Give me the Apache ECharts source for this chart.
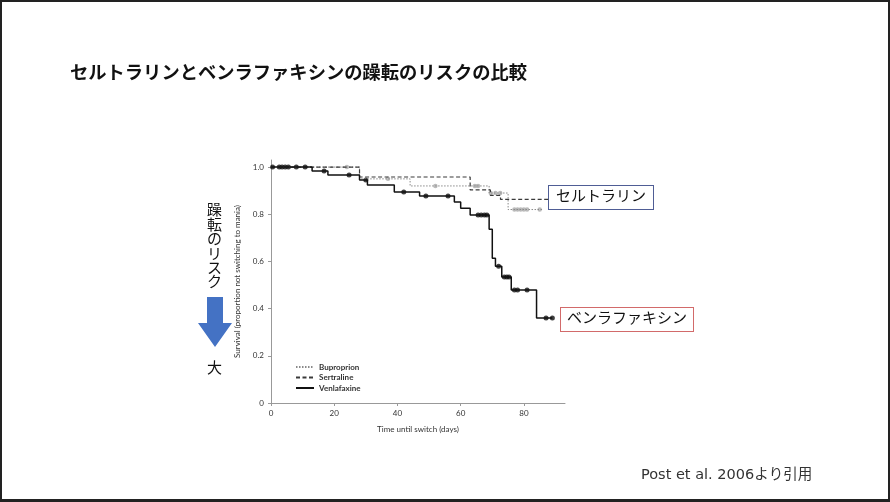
<!DOCTYPE html>
<html>
<head>
    <meta charset="UTF-8">
    <title>セルトラリンとベンラファキシンの躁転のリスクの比較</title>
    <script src="https://cdn.jsdelivr.net/npm/echarts@6/dist/echarts.min.js"></script>
    <style>
        html, body { margin: 0; padding: 0; background: #fff; }
        #chart { position: absolute; left: 0; top: 0; width: 890px; height: 502px; }
        #frame {
            position: absolute; left: 0; top: 0; width: 890px; height: 502px;
            box-sizing: border-box; pointer-events: none;
            border-style: solid; border-color: #222;
            border-width: 2px 2px 3px 2px;
        }
    </style>
</head>
<body>
<div id="chart"></div>
<div id="frame"></div>

<script>
    // Kaplan-Meier steps (days, proportion not switching)
    const venlaTimes  = [0, 13, 18, 28, 30.5, 39, 47, 58, 60, 63, 69, 70, 71, 73, 76, 84, 89];
    const venlaValues = [1.0, 0.983, 0.966, 0.945, 0.924, 0.894, 0.877, 0.852, 0.826, 0.797, 0.737, 0.614, 0.58, 0.534, 0.479, 0.36, 0.36];
    const sertTimes   = [0, 28, 63, 69.4, 72.6, 88];
    const sertValues  = [1.0, 0.958, 0.903, 0.88, 0.863, 0.863];
    const bupTimes    = [0, 28, 44, 69, 75, 86];
    const bupValues   = [1.0, 0.95, 0.92, 0.89, 0.82, 0.82];

    // censored observations
    const venlaCensTimes  = [0.5, 2.6, 3.5, 4.5, 5.5, 8, 10.8, 16.8, 24.7, 30, 42, 49, 56, 65.5, 66.5, 67.5, 68.3, 72, 73.8, 74.6, 75.3, 77, 78, 81, 87, 89];
    const venlaCensValues = [1, 1, 1, 1, 1, 1, 1, 0.983, 0.966, 0.945, 0.894, 0.877, 0.877, 0.797, 0.797, 0.797, 0.797, 0.58, 0.534, 0.534, 0.534, 0.479, 0.479, 0.479, 0.36, 0.36];
    const bupCensTimes    = [24, 37, 52, 64.5, 65.5, 69.5, 71, 72.5, 77, 78, 79, 80, 81, 85];
    const bupCensValues   = [1, 0.95, 0.92, 0.92, 0.92, 0.89, 0.89, 0.89, 0.82, 0.82, 0.82, 0.82, 0.82, 0.82];

    const drugNames = ['Buproprion', 'Sertraline', 'Venlafaxine'];

    const zip = (xs, ys) => xs.map((x, i) => [x, ys[i]]);
    const axisFont = 'Lato, "DejaVu Sans", sans-serif';
    const jpFont = '"DejaVu Sans", "Noto Sans CJK JP", sans-serif';

    const chart = echarts.init(document.getElementById('chart'));
    const option = {
        animation: false,
        title: {
            text: 'セルトラリンとベンラファキシンの躁転のリスクの比較',
            left: 70,
            top: 63,
            padding: 0,
            textStyle: { fontFamily: '"Noto Sans CJK JP", sans-serif', fontSize: 18.3, fontWeight: 'bold', color: '#111' }
        },
        legend: {
            data: drugNames,
            orient: 'vertical',
            left: 290,
            top: 358,
            itemWidth: 18,
            itemHeight: 8,
            itemGap: 2.5,
            itemStyle: { opacity: 0 },
            textStyle: { fontFamily: axisFont, fontSize: 8, color: '#333', fontWeight: 'bold' }
        },
        grid: { left: 271, right: 325, top: 160, bottom: 99 },
        xAxis: {
            type: 'value',
            min: 0,
            max: 93,
            interval: 20,
            name: 'Time until switch (days)',
            nameLocation: 'middle',
            nameGap: 22,
            nameTextStyle: { fontFamily: axisFont, fontSize: 8, color: '#333' },
            axisLine: { lineStyle: { color: '#999' } },
            axisTick: { length: 3, lineStyle: { color: '#999' } },
            axisLabel: { fontFamily: axisFont, fontSize: 8, color: '#333', margin: 6, showMaxLabel: false },
            splitLine: { show: false }
        },
        yAxis: {
            type: 'value',
            min: 0,
            max: 1.03,
            interval: 0.2,
            name: 'Survival (proportion not switching to mania)',
            nameLocation: 'middle',
            nameGap: 30,
            nameTextStyle: { fontFamily: axisFont, fontSize: 8, color: '#333' },
            axisLine: { show: true, lineStyle: { color: '#999' } },
            axisTick: { show: true, length: 3, lineStyle: { color: '#999' } },
            axisLabel: {
                fontFamily: axisFont, fontSize: 8, color: '#333', margin: 7,
                formatter: v => (v === 0 ? '0' : v.toFixed(1))
            },
            splitLine: { show: false }
        },
        series: [
            {
                name: 'Buproprion', type: 'line', step: 'end', symbol: 'none',
                data: zip(bupTimes, bupValues),
                lineStyle: { color: '#8a8a8a', width: 1, type: [1.5, 1.5] },
                itemStyle: { color: '#8a8a8a' }
            },
            {
                name: 'Sertraline', type: 'line', step: 'end', symbol: 'none',
                data: zip(sertTimes, sertValues),
                lineStyle: { color: '#3a3a3a', width: 1.2, type: [4, 2.5] },
                itemStyle: { color: '#3a3a3a' }
            },
            {
                name: 'Venlafaxine', type: 'line', step: 'end', symbol: 'none',
                data: zip(venlaTimes, venlaValues),
                lineStyle: { color: '#111', width: 1.5 },
                itemStyle: { color: '#111' }
            },
            {
                name: 'Buproprion censored', type: 'scatter', symbol: 'emptyCircle', symbolSize: 2.5,
                data: zip(bupCensTimes, bupCensValues),
                itemStyle: { color: '#aaa', borderColor: '#aaa', borderWidth: 0.8 }
            },
            {
                name: 'Venlafaxine censored', type: 'scatter', symbol: 'circle', symbolSize: 5,
                data: zip(venlaCensTimes, venlaCensValues),
                itemStyle: { color: '#111' }
            }
        ],
        graphic: [
            {
                type: 'text', left: 548, top: 185,
                style: {
                    text: 'セルトラリン', fontFamily: jpFont, fontSize: 15, fill: '#111',
                    backgroundColor: '#fff', borderColor: '#4f5d95', borderWidth: 1,
                    padding: [4, 7, 4, 7]
                }
            },
            {
                type: 'text', left: 560, top: 307,
                style: {
                    text: 'ベンラファキシン', fontFamily: jpFont, fontSize: 15, fill: '#111',
                    backgroundColor: '#fff', borderColor: '#d26a6a', borderWidth: 1,
                    padding: [4, 6, 4, 6]
                }
            },
            {
                type: 'text', left: 207, top: 204,
                style: {
                    text: '躁転のリスク'.split('').join('\n'),
                    fontFamily: jpFont, fontSize: 15, lineHeight: 14.4, fill: '#111'
                }
            },
            {
                type: 'polygon',
                shape: { points: [[207, 297], [223, 297], [223, 323], [232, 323], [215, 347], [198, 323], [207, 323]] },
                style: { fill: '#4472c4' }
            },
            {
                type: 'text', left: 207, top: 362,
                style: { text: '大', fontFamily: jpFont, fontSize: 15, fill: '#111' }
            },
            {
                type: 'text', left: 641, top: 468,
                style: { text: 'Post et al. 2006より引用', fontFamily: jpFont, fontSize: 14.5, fill: '#333' }
            }
        ]
    };

    chart.setOption(option);
</script>
</body>
</html>
